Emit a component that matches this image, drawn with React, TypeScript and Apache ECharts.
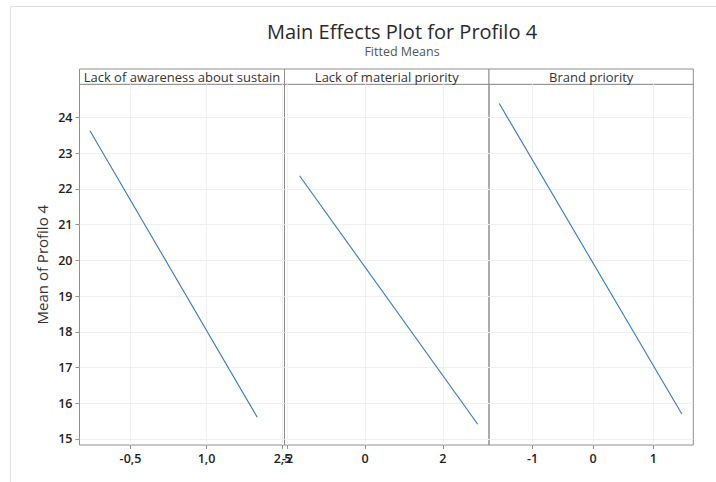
import React, { useEffect, useRef } from "react";
import * as echarts from "echarts";

const panelTitles = ["Lack of awareness about sustain", "Lack of material priority", "Brand priority"];
const awarenessX = [-1.3, 2.0];
const awarenessY = [23.63, 15.61];
const materialX = [-1.69, 2.9];
const materialY = [22.37, 15.41];
const brandX = [-1.55, 1.47];
const brandY = [24.39, 15.7];
const xTicks = [[-0.5, 1.0, 2.5], [-2, 0, 2], [-1, 0, 1]];
const xRanges = [[-1.506, 2.54], [-2.077, 3.19], [-1.72, 1.66]];
const yTicks = [15, 16, 17, 18, 19, 20, 21, 22, 23, 24];
const yRange = [14.83, 24.93];
const title = "Main Effects Plot for Profilo 4";
const subtitle = "Fitted Means";
const yName = "Mean of Profilo 4";

const FONT = "'Open Sans', 'Noto Sans', sans-serif";
const BORDER = "#8f8f8f";
const GRIDC = "#f0f0f0";

export default function App() {
  const ref = useRef<HTMLDivElement>(null);
  useEffect(() => {
    if (!ref.current) return;
    const chart = echarts.init(ref.current, undefined, { renderer: "svg" });
    const lefts = [79.5, 284.5, 489];
    const widths = [205, 204.5, 204.3];
    const top = 84.3;
    const bottom = 482 - 445;
    const seriesX = [awarenessX, materialX, brandX];
    const seriesY = [awarenessY, materialY, brandY];
    const fmt = (i: number) => (v: number) =>
      i === 0 ? v.toFixed(1).replace(".", ",") : String(v);

    const option: any = {
      animation: false,
      backgroundColor: "#ffffff",
      title: [
        {
          text: title,
          left: 397,
          top: 16,
          textAlign: "center",
          textStyle: { fontFamily: FONT, fontSize: 20, fontWeight: "normal", color: "#2a2a2a" },
        },
        {
          text: subtitle,
          left: 397,
          top: 40,
          textAlign: "center",
          textStyle: { fontFamily: FONT, fontSize: 12.5, fontWeight: "normal", color: "#555" },
        },
      ],
      grid: lefts.map((l, i) => ({
        left: l,
        width: widths[i],
        top,
        bottom,
        show: true,
        borderColor: BORDER,
        borderWidth: 1,
        backgroundColor: "transparent",
        containLabel: false,
      })),
      xAxis: lefts.map((_, i) => ({
        type: "value",
        gridIndex: i,
        min: xRanges[i][0],
        max: xRanges[i][1],
        axisLine: { show: false, onZero: false },
        axisTick: { show: true, length: 4, lineStyle: { color: BORDER }, customValues: xTicks[i] },
        axisLabel: {
          customValues: xTicks[i],
          formatter: fmt(i),
          fontFamily: FONT,
          fontSize: 12.5,
          fontWeight: 600,
          color: "#222",
          margin: 7,
        },
        splitLine: { show: true, lineStyle: { color: GRIDC, width: 1 } },
      })),
      yAxis: lefts.map((_, i) => ({
        type: "value",
        gridIndex: i,
        min: yRange[0],
        max: yRange[1],
        name: i === 0 ? yName : "",
        nameLocation: "middle",
        nameGap: 30,
        nameTextStyle: { fontFamily: FONT, fontSize: 15, color: "#333" },
        axisLine: { show: false, onZero: false },
        axisTick: { show: i === 0, length: 4, lineStyle: { color: BORDER }, customValues: yTicks },
        axisLabel: {
          show: i === 0,
          customValues: yTicks,
          fontFamily: FONT,
          fontSize: 12.5,
          fontWeight: 600,
          color: "#222",
          margin: 7,
        },
        splitLine: { show: true, lineStyle: { color: GRIDC, width: 1 } },
      })),
      series: lefts.map((_, i) => ({
        type: "line",
        xAxisIndex: i,
        yAxisIndex: i,
        data: seriesX[i].map((x, k) => [x, seriesY[i][k]]),
        showSymbol: false,
        symbol: "none",
        lineStyle: { color: "#3378c4", width: 1.1 },
        silent: true,
      })),
      graphic: [
        { type: "line", shape: { x1: 10, y1: 6.5, x2: 716, y2: 6.5 }, style: { stroke: "#e2e2e2", lineWidth: 1 }, silent: true },
        { type: "line", shape: { x1: 10.5, y1: 6, x2: 10.5, y2: 482 }, style: { stroke: "#e2e2e2", lineWidth: 1 }, silent: true },
        ...lefts.map((l, i) => ({
          type: "rect",
          shape: { x: l, y: 69, width: widths[i], height: top - 69 },
          style: { fill: "#fff", stroke: BORDER, lineWidth: 1 },
          silent: true,
        })),
        ...lefts.map((l, i) => ({
          type: "text",
          x: l + widths[i] / 2,
          y: 77,
          style: {
            text: panelTitles[i],
            fontFamily: FONT,
            fontSize: 13,
            fill: "#333",
            align: "center",
            verticalAlign: "middle",
          },
          silent: true,
        })),
      ],
    };
    chart.setOption(option);
    return () => chart.dispose();
  }, []);
  return (
    <div
      ref={ref}
      style={{ position: "fixed", left: 0, top: 0, width: 716, height: 482, background: "#fff" }}
    />
  );
}
